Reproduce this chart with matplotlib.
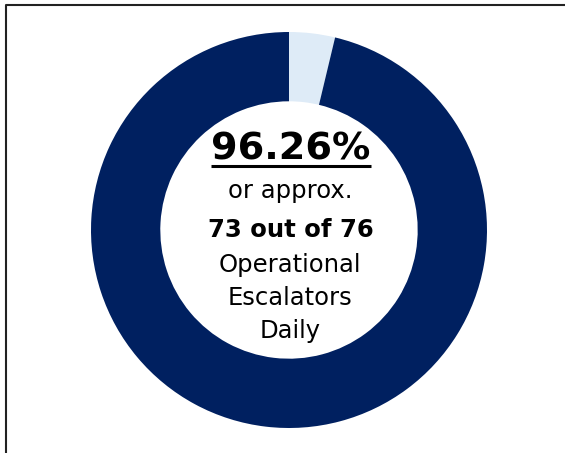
import matplotlib
matplotlib.use("Agg")
import matplotlib.pyplot as plt
from matplotlib.lines import Line2D

# data
slice_labels = ["Non-operational", "Operational"]
slice_shares = [3.74, 96.26]
slice_colors = ["#DEEBF7", "#002060"]
headline = "96.26%"
operational_count = 73
total_count = 76

W, H = 565, 453
fig = plt.figure(figsize=(W / 100, H / 100), dpi=100)
ax = fig.add_axes([0, 0, 1, 1])

# donut, centre and radius in pixel units
cx, cy, r_out = 289, H - 230, 198
ax.pie(slice_shares, colors=slice_colors, startangle=90, counterclock=False,
       center=(cx, cy), radius=r_out,
       wedgeprops=dict(width=r_out * 0.35, linewidth=0))
ax.set_xlim(0, W)
ax.set_ylim(0, H)
ax.set_aspect("equal")
ax.axis("off")

# centre text (y given as pixel baseline from top)
tx = 290
t_big = ax.text(tx + 1, H - 159, headline, ha="center", va="baseline",
                fontsize=27.5, fontweight="bold", color="black")
ax.text(tx, H - 198, "or approx.", ha="center", va="baseline", fontsize=17.5)
ax.text(tx + 1, H - 237, f"{operational_count} out of {total_count}", ha="center",
        va="baseline", fontsize=17.5, fontweight="bold")
ax.text(tx, H - 272, "Operational", ha="center", va="baseline", fontsize=17.5)
ax.text(tx, H - 305, "Escalators", ha="center", va="baseline", fontsize=17.5)
ax.text(tx, H - 338, "Daily", ha="center", va="baseline", fontsize=17.5)

# underline the headline
fig.canvas.draw()
bb = t_big.get_window_extent()
ax.plot([bb.x0, bb.x1], [H - 166, H - 166], color="black", lw=2.2,
        solid_capstyle="butt")

# frame lines on left and top
fig.add_artist(Line2D([5.5 / W, 5.5 / W, 1.0], [0.0, 1 - 4.5 / H, 1 - 4.5 / H],
                      transform=fig.transFigure, color="#222222", lw=1.5))

fig.savefig("out.png", dpi=100)
